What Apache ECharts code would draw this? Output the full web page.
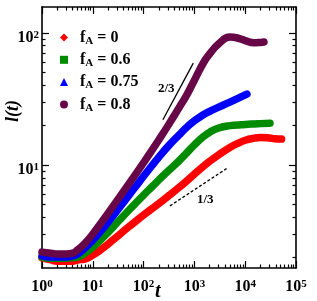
<!DOCTYPE html>
<html><head><meta charset="utf-8">
<script src="https://cdn.jsdelivr.net/npm/echarts@6/dist/echarts.min.js"></script>
<style>html,body{margin:0;padding:0;background:#fff}#c{width:317px;height:301px}</style>
</head><body><div id="c"></div>
<script>
// ---- data (t, l(t)) ----
const tRed    = [1,1.5,2,3,4,5,7,10,15,20,30,50,70,100,150,200,300,500,700,1000,1500,2000,3000,5000,7000,10000,15000,20000,30000,38000,52000];
const lRed    = [1.98,1.91,1.87,1.87,1.87,1.91,1.94,2.08,2.31,2.52,2.87,3.38,3.75,4.18,4.70,5.11,5.77,6.76,7.55,8.53,9.75,10.66,11.94,13.58,14.52,15.38,15.96,16.14,16.0,15.8,15.7];
const tGreen  = [1,1.5,2,3,4,5,7,10,15,20,30,50,70,100,150,200,300,500,700,1000,1500,2000,3000,5000,7000,10000,15000,20000,30800];
const lGreen  = [2.01,1.97,1.97,1.97,1.99,2.01,2.15,2.39,2.76,3.09,3.65,4.50,5.15,5.92,6.90,7.71,8.95,10.76,12.30,14.19,16.37,17.70,19.05,19.86,20.04,20.28,20.46,20.56,20.70];
const tBlue   = [1,1.5,2,3,4,5,7,10,15,20,30,50,70,100,150,200,300,500,700,1000,1500,2000,3000,5000,7000,10800];
const lBlue   = [2.05,2.01,2.01,2.01,2.05,2.12,2.35,2.70,3.22,3.69,4.50,5.81,6.87,8.22,10.02,11.48,13.77,16.9,19.2,21.6,24.0,25.5,27.4,29.9,31.8,34.4];
const tPurple = [1,1.5,2,3,4,5,7,10,15,20,30,50,70,100,150,200,300,500,700,1000,1500,2000,3000,5000,7000,10000,15000,20000,23400];
const lPurple = [2.19,2.15,2.12,2.12,2.15,2.27,2.55,3.00,3.70,4.31,5.37,7.09,8.54,10.42,13.12,15.52,19.77,27.16,33.65,43.85,59.16,69.3,82.6,92.9,91.5,87.5,84.2,84.7,85.3];
// guide lines
const guide23T = [240, 950];
const guide23L = [22, 59];
const guide13T = [330, 4300];
const guide13L = [4.9, 9.4];
// names / ticks
const seriesNames = ['f_A = 0', 'f_A = 0.6', 'f_A = 0.75', 'f_A = 0.8'];
const xMajor = [1, 10, 100, 1000, 10000, 100000];
const yMajor = [10, 100];
const xMin = 1, xMax = 100000;
const yMin = 1.66, yMax = 157;

function minorsOf(lo, hi) {
  const out = [];
  const decades = [0.1, 1, 10, 100, 1000, 10000];
  decades.forEach(d => { for (let m = 2; m <= 9; m++) { const v = m * d; if (v > lo && v < hi) out.push(v); } });
  return out;
}
const xMinor = minorsOf(xMin, xMax);
const yMinor = minorsOf(yMin, yMax);

const FONT = "'Liberation Serif','Times New Roman',serif";
const colors = ['#ff0000', '#008b00', '#0000ff', '#670748'];
const icons = ['diamond', 'rect', 'triangle', 'circle'];
const tData = [tRed, tGreen, tBlue, tPurple];
const lData = [lRed, lGreen, lBlue, lPurple];

function powLabel(v) {
  const e = Math.round(Math.log10(v));
  return '{b|10}{s|' + e + '}';
}
const labelRich = {
  b: { fontFamily: FONT, fontWeight: 'bold', fontSize: 16, lineHeight: 16, color: '#000' },
  s: { fontFamily: FONT, fontWeight: 'bold', fontSize: 11, lineHeight: 6, verticalAlign: 'top', color: '#000' }
};

function mkAxis(dim, position, ticks, len, showLine, labels) {
  const isX = dim === 'x';
  return {
    type: 'log', logBase: 10,
    position: position,
    min: isX ? xMin : yMin, max: isX ? xMax : yMax,
    axisLine: { show: showLine, onZero: false, lineStyle: { color: '#000', width: 1.6 } },
    axisTick: { show: true, inside: true, length: len, customValues: ticks, lineStyle: { color: '#000', width: 1.2 } },
    minorTick: { show: false },
    splitLine: { show: false },
    axisLabel: labels ? {
      show: true, customValues: labels, formatter: powLabel, rich: labelRich,
      margin: isX ? 11 : 3, padding: isX ? [0, 0, 0, 0] : [9, 0, 0, 0]
    } : { show: false }
  };
}

const series = [];
for (let i = 0; i < 4; i++) {
  series.push({
    name: seriesNames[i], type: 'line', xAxisIndex: 0, yAxisIndex: 0,
    data: tData[i].map((t, k) => [t, lData[i][k]]),
    showSymbol: false, symbol: 'none', smooth: 0.5,
    lineStyle: { color: colors[i], width: 7.5, cap: 'round', join: 'round' },
    itemStyle: { color: colors[i] },
    z: 2 + i, clip: true
  });
}
series.push({
  name: 'g23', type: 'line', data: guide23T.map((t, k) => [t, guide23L[k]]),
  symbol: 'none', lineStyle: { color: '#000', width: 1.3 }, z: 10, silent: true
});
series.push({
  name: 'g13', type: 'line', data: guide13T.map((t, k) => [t, guide13L[k]]),
  symbol: 'none', lineStyle: { color: '#000', width: 1.3, type: [3, 2] }, z: 10, silent: true
});

const option = {
  animation: false,
  backgroundColor: '#fff',
  grid: { left: 42, right: 21, top: 7, bottom: 33, containLabel: false },
  xAxis: [
    mkAxis('x', 'bottom', xMajor, 7, true, xMajor),
    mkAxis('x', 'bottom', xMinor, 3.5, false, null),
    mkAxis('x', 'top', xMajor, 7, true, null),
    mkAxis('x', 'top', xMinor, 3.5, false, null)
  ],
  yAxis: [
    mkAxis('y', 'left', yMajor, 7, true, yMajor),
    mkAxis('y', 'left', yMinor, 3.5, false, null),
    mkAxis('y', 'right', yMajor, 7, true, null),
    mkAxis('y', 'right', yMinor, 3.5, false, null)
  ],
  legend: {
    orient: 'vertical', left: 60, top: 29.5, itemWidth: 8, itemHeight: 8, itemGap: 5.3,
    padding: 0, selectedMode: false,
    data: seriesNames.map((n, i) => ({ name: n, icon: icons[i], itemStyle: { color: colors[i], borderWidth: 0 } })),
    formatter: function (name) { return '{b|f}{s|A}{b| = ' + name.split('= ')[1] + '}'; },
    textStyle: {
      padding: [0, 0, 0, 7],
      rich: {
        b: { fontFamily: FONT, fontWeight: 'bold', fontSize: 16, lineHeight: 18, color: '#000' },
        s: { fontFamily: FONT, fontWeight: 'bold', fontSize: 11, lineHeight: 8, verticalAlign: 'bottom', color: '#000' }
      }
    }
  },
  graphic: [
    { type: 'text', left: 155, top: 282, style: { text: 't', font: 'italic bold 20px ' + FONT, fill: '#000' } },
    { type: 'text', x: 4, y: 122, rotation: Math.PI / 2, style: { text: 'l(t)', font: 'italic bold 18px ' + FONT, fill: '#000' } },
    { type: 'text', left: 158, top: 82, style: { text: '2/3', font: 'bold 13px ' + FONT, fill: '#000' } },
    { type: 'text', left: 197, top: 193, style: { text: '1/3', font: 'bold 13px ' + FONT, fill: '#000' } }
  ],
  series: series
};
const chart = echarts.init(document.getElementById('c'), null, { renderer: 'canvas' });
chart.setOption(option);
</script></body></html>
